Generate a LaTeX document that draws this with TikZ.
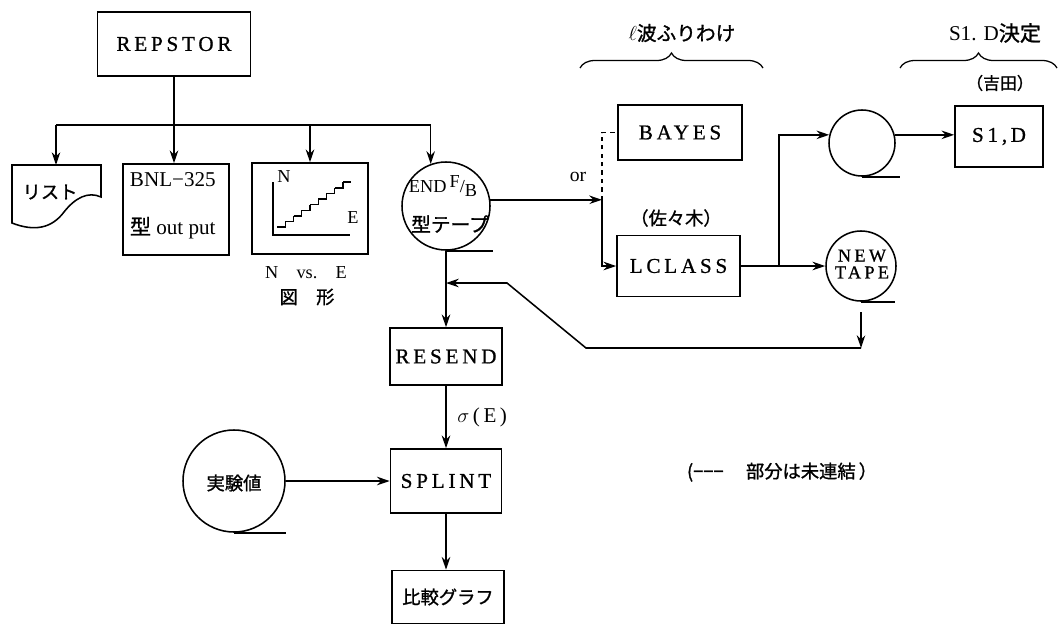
\documentclass[tikz,border=0pt]{standalone}
\usepackage{fontspec}
\setmainfont{Liberation Serif}
\newfontfamily\jp[FakeBold=1.2]{Noto Sans CJK JP}
\newfontfamily\wide[LetterSpace=18,FakeBold=0.8]{Liberation Serif}
\usetikzlibrary{positioning,arrows.meta,calc,decorations.pathreplacing}
\newcommand\pxu{0.025cm}
\tikzset{
    every node/.style={font=\fontsize{13}{15}\selectfont},
    prog/.style={draw,line width=1.1pt,inner sep=0pt,font=\fontsize{15}{17}\selectfont\wide},
    tape/.style={circle,draw,line width=1.1pt,inner sep=0pt},
    tail/.style={line width=1.1pt},
    jtext/.style={font=\fontsize{13}{15}\selectfont\jp},
    arr/.style={line width=1.1pt,-{Stealth[length=9pt,width=6pt]}},
    lnk/.style={line width=1.1pt},
    grp/.style={line width=0.9pt,decorate,decoration={brace,amplitude=15*\pxu}}
}

\begin{document}
\begin{tikzpicture}[x=0.025cm,y=-0.025cm]
    \useasboundingbox (0,0) rectangle (1058,625);
    % REPSTOR and its four outputs
    \node[prog,minimum width=153*\pxu,minimum height=64*\pxu] (repstor) at (174,44) {REPSTOR};
    \coordinate (fork) at (174,125);
    \coordinate (listtop) at (56,165);
    \node[draw,line width=1.1pt,inner sep=0pt,minimum width=106*\pxu,minimum height=91*\pxu] (bnl) at (176,209.5) {};
    \node[anchor=west,font=\fontsize{15}{17}\selectfont] (bnltop) at (125,180) {BNL−325};
    \node[anchor=west,font=\fontsize{15}{17}\selectfont] (bnlbot) at (125,228) {{\jp 型} out put};
    \node[draw,line width=1.1pt,inner sep=0pt,minimum width=116*\pxu,minimum height=91*\pxu] (nve) at (310,208.5) {};
    \node[tape,minimum size=88*\pxu] (endtape) at (446,206) {};
    \draw[tail] (endtape.south) -- ++(47,0);
    \node[inner sep=0pt] (endlbl) at (443,186) {END\,\raisebox{4pt}{F}/\raisebox{-3pt}{B}};
    \node[jtext,inner sep=0pt,font=\fontsize{14}{16}\selectfont\jp] (endjp) at (450,224) {型テープ};
    \coordinate (forkR) at (endtape.110 |- fork);
    \draw[lnk] (listtop |- fork) -- (forkR);
    \draw[lnk] (repstor.south) -- (fork);
    \draw[arr] (listtop |- fork) -- (listtop);
    \draw[arr] (fork) -- (fork |- bnl.north);
    \draw[arr] (nve.north |- fork) -- (nve.north);
    \draw[arr] (forkR) -- (endtape.110);

    % list document shape
    \draw[line width=1.1pt] (98,196) -- (101,197) -- (101,165) -- (12,165) -- (12,223)
        .. controls (35,232) and (52,228) .. (64,212)
        .. controls (75,198) and (88,191) .. (101,197);
    \node[jtext] (list) at (50,192) {リスト};

    % N vs E plot
    \draw[line width=1pt] (273,182) -- (273,235) -- (350,235);
    \foreach \i in {0,...,7}
        \draw[line width=1pt] (277+\i*8.25,227-\i*5.6) -- ++(8.25,0) -- ++(0,-5.6);
    \draw[line width=1pt] (343,182) -- ++(8,0);
    \node[font=\fontsize{13}{15}\selectfont] (nlab) at (284,177) {N};
    \node[font=\fontsize{13}{15}\selectfont] (elab) at (353,218) {E};
    \node (nvetxt) at (306,273) {N\quad vs.\quad E};
    \node[jtext] (zukei) at (307,297) {図\quad 形};

    % l-wave split
    \node[prog,minimum width=124*\pxu,minimum height=55*\pxu] (bayes) at (680,132.5) {BAYES};
    \node[prog,minimum width=123*\pxu,minimum height=61*\pxu] (lclass) at (678.5,266) {LCLASS};
    \coordinate (split) at (602,200);
    \draw[arr] (endtape.8) -- (endtape.8 -| split);
    \draw[arr] (split) |- (lclass.west);
    \draw[lnk,dashed] (split) |- (bayes.west);
    \node[font=\fontsize{14}{16}\selectfont] (or) at (578,177) {or};
    \node[jtext] (sasaki) at (676,218) {（佐々木）};
    \node[jtext,font=\fontsize{14}{16}\selectfont\jp] (lwave) at (682,33) {$\ell$波ふりわけ};
    \draw[grp] (580,68) -- (763,68);

    % S1, D
    \node[tape,minimum size=66*\pxu] (tape2) at (862,143) {};
    \draw[tail] (tape2.south) -- ++(38,0);
    \node[tape,minimum size=70*\pxu] (newtape) at (861,266) {};
    \draw[tail] (newtape.south) -- ++(34,0);
    \node[font=\fontsize{13}{12}\selectfont\wide,align=center,inner sep=0pt] (newlbl) at (862,264) {NEW\\TAPE};
    \node[prog,minimum width=88*\pxu,minimum height=61*\pxu] (s1d) at (999,136.5) {S1,\,D};
    \coordinate (tee) at ($(lclass.east)!0.45!(newtape.west)$);
    \draw[arr] (lclass.east) -- (newtape.west);
    \draw[arr] (tee) |- (tape2.166);
    \draw[arr] (tape2.14) -- (tape2.14 -| s1d.west);
    \node[jtext,font=\fontsize{12}{14}\selectfont\jp] (yoshida) at (1000,83) {（吉田）};
    \node[font=\fontsize{15}{17}\selectfont] (sdtitle) at (995,33) {S1. D{\jp 決定}};
    \draw[grp] (900,68) -- (1057,68);

    % feedback from NEW TAPE
    \coordinate (fbtop) at (861,312);
    \coordinate (fbcorner) at (861,348);
    \coordinate (fbbend) at (586,348);
    \coordinate (fbkink) at (507,283);
    \coordinate (join) at (446,283);
    \draw[arr] (fbtop) -- (fbcorner);
    \draw[arr] (fbcorner) -- (fbbend) -- (fbkink) -- (join);

    % RESEND, SPLINT
    \node[prog,minimum width=112*\pxu,minimum height=57*\pxu] (resend) at (446,356.5) {RESEND};
    \node[prog,minimum width=111*\pxu,minimum height=64*\pxu] (splint) at (446,481) {SPLINT};
    \node[draw,line width=1.1pt,minimum width=112*\pxu,minimum height=53*\pxu,jtext] (hikaku) at (448,597) {比較グラフ};
    \draw[arr] (endtape.south) -- (resend.north);
    \draw[arr] (resend) -- node[right,xshift=6*\pxu,font=\fontsize{15}{17}\selectfont] (sigma) {$\sigma$\,(\,E\,)} (splint);
    \draw[arr] (splint) -- (splint |- hikaku.north);
    \node[tape,minimum size=102*\pxu] (jikken) at (234,481) {};
    \draw[tail] (jikken.south) -- ++(52,0);
    \node[jtext] (jikkenlbl) at (234,483) {実験値};
    \draw[arr] (jikken) -- (splint);

    \node[jtext,font=\fontsize{13}{15}\selectfont\jp] (note) at (782,472) {(−−−\quad\ 部分は未連結\,）};
\end{tikzpicture}
\end{document}
